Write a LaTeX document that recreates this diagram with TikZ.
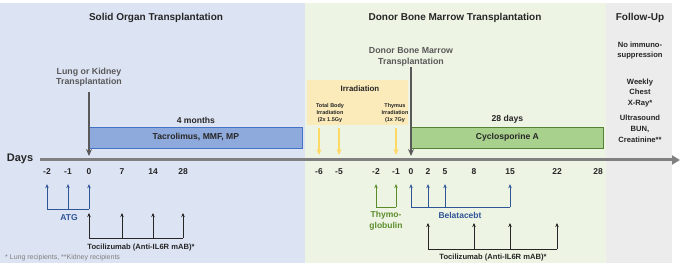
\documentclass[tikz,border=0pt]{standalone}
\usepackage{fontspec}
\setmainfont{Liberation Sans}
\usetikzlibrary{arrows.meta,positioning}
\definecolor{solidbg}{HTML}{DCE3F3}
\definecolor{donorbg}{HTML}{EEF4E4}
\definecolor{fubg}{HTML}{ECECEC}
\definecolor{tacfill}{HTML}{8EA9DB}
\definecolor{tacline}{HTML}{4472C4}
\definecolor{cycfill}{HTML}{A9D18E}
\definecolor{cycline}{HTML}{548235}
\definecolor{irrfill}{HTML}{FCEBBA}
\definecolor{raycol}{HTML}{FFD966}
\definecolor{bluec}{HTML}{2F5597}
\definecolor{greenc}{HTML}{5B8C2A}
\definecolor{txt}{HTML}{262626}
\definecolor{evgray}{HTML}{595959}
\definecolor{axgray}{HTML}{808080}
\tikzset{
  tl/.style={x=1pt, y=-1pt, >={Stealth[length=4pt,width=3.5pt]},
             every node/.style={text=txt, inner sep=1pt, align=center}},
  ptitle/.style={font=\bfseries\fontsize{10}{12}\selectfont},
  tick/.style={font=\bfseries\fontsize{8.5}{10}\selectfont},
  evtxt/.style={text=evgray, font=\bfseries\fontsize{8.8}{10.5}\selectfont},
  drug/.style={draw, line width=0.8pt, anchor=west, minimum height=21pt, font=\bfseries\fontsize{8.6}{10}\selectfont},
  dur/.style={font=\bfseries\fontsize{8.6}{10}\selectfont},
  lab/.style={font=\bfseries\fontsize{8.5}{11.5}\selectfont},
  small/.style={font=\bfseries\fontsize{5.5}{6.7}\selectfont},
  fu/.style={font=\bfseries\fontsize{7.6}{10.8}\selectfont},
  event/.style={->, line width=1.8pt, evgray, >={Stealth[length=7pt,width=6pt]}, shorten >=4pt},
  axis/.style={-{Triangle[length=8pt,width=9pt]}, line width=3pt, axgray},
  ray/.style={->, line width=1.2pt, raycol, >={Stealth[length=6pt,width=5pt]}, shorten >=5pt},
  dose/.style={->, line width=1pt, shorten >=8pt},
  bar/.style={line width=1pt}
}

\begin{document}
\begin{tikzpicture}[tl]
\useasboundingbox (0,0) rectangle (680,267);
% phases
\fill[solidbg] (0,3) rectangle (305,263);
\fill[donorbg] (305,3) rectangle (606,263);
\fill[fubg] (606,3) rectangle (672,263);
\node[ptitle] (tsot) at (156,18) {Solid Organ Transplantation};
\node[ptitle] (tbmt) at (455,18) {Donor Bone Marrow Transplantation};
\node[ptitle] (tfu) at (640,18) {Follow-Up};

% time axis
\node[font=\bfseries\fontsize{11}{13}\selectfont] (days) at (20,159) {Days};
\coordinate (a0) at (40,160); \coordinate (a1) at (680,160);
\draw[axis] (a0) -- (a1);
\foreach \x/\n in {47/-2,68/-1,89/0,122/7,153/14,183/28}
  \node[tick] (s\n) at (\x,172) {\n};
\foreach \x/\n in {319/-6,339/-5,376/-2,396/-1,411/0,428/2,445/5,474/8,510/15,557/22,598/28}
  \node[tick] (d\n) at (\x,172) {\n};

% drugs
\node[drug, fill=tacfill, draw=tacline, minimum width=213pt] (tac) at (89,137.5) {Tacrolimus, MMF, MP};
\node[dur, above=2pt of tac] (tacdur) {4 months};
\node[drug, fill=cycfill, draw=cycline, minimum width=192pt] (cyc) at (411,137.5) {Cyclosporine A};
\node[dur, above=2pt of cyc] (cycdur) {28 days};

% irradiation
\node[fill=irrfill, minimum width=101pt, minimum height=45pt, anchor=north west] (irr) at (307,80) {};
\node[font=\bfseries\fontsize{7.9}{9}\selectfont] (irrt) at (360,89) {Irradiation};
\node[small] (tbi) at (330,113) {Total Body\\Irradiation\\(2x 1.5Gy};
\node[small] (thy) at (395,113) {Thymus\\Irradiation\\(1x 7Gy};
\foreach \n in {-6,-5,-1}
  \draw[ray] (d\n |- irr.south) ++(0,3) -- (d\n |- a0);

% transplantations
\node[evtxt] (lung) at (89,77) {Lung or Kidney\\Transplantation};
\draw[event] ([yshift=-4pt]lung.south) -- (lung.south |- a0);
\node[evtxt] (dbm) at (411,57) {Donor Bone Marrow\\Transplantation};
\draw[event] (dbm.south) -- (dbm.south |- a0);

% doses
\draw[bar, bluec] (s-2 |- 0,209) -- (s0 |- 0,209);
\foreach \n in {-2,-1,0} \draw[dose, bluec] (s\n |- 0,209) -- (s\n.south);
\node[lab, text=bluec] (atg) at (69,218) {ATG};
\draw[bar, txt] (s0 |- 0,238) -- (s28 |- 0,238);
\foreach \n in {0,7,14,28} \draw[dose, txt, shorten >=0pt] (s\n |- 0,238) -- (s\n |- 0,213);
\node[lab, font=\bfseries\fontsize{7.6}{9}\selectfont] (toc1) at (141,248) {Tocilizumab (Anti-IL6R mAB)*};

\draw[bar, greenc] (d-2 |- 0,207) -- (d-1 |- 0,207);
\foreach \n in {-2,-1} \draw[dose, greenc] (d\n |- 0,207) -- (d\n.south);
\node[lab, text=greenc] (thymo) at (386,221) {Thymo-\\globulin};
\draw[bar, bluec] (d0 |- 0,207) -- (d15 |- 0,207);
\foreach \n in {0,2,5,15} \draw[dose, bluec] (d\n |- 0,207) -- (d\n.south);
\node[lab, text=bluec] (bela) at (460,215) {Belatacebt};
\draw[bar, txt] (d2 |- 0,249) -- (d22 |- 0,249);
\foreach \n in {2,8,15,22} \draw[dose, txt, shorten >=0pt] (d\n |- 0,249) -- (d\n |- 0,223);
\node[lab, font=\bfseries\fontsize{7.6}{9}\selectfont] (toc2) at (493,258) {Tocilizumab (Anti-IL6R mAB)*};

% follow-up
\node[fu] (fu1) at (640,50.5) {No immuno-\\suppression};
\node[fu] (fu2) at (640,93) {Weekly\\Chest\\X-Ray*};
\node[fu] (fu3) at (640,128.5) {Ultrasound\\BUN,\\Creatinine**};

\node[anchor=west, text=axgray, font=\fontsize{7}{8}\selectfont] (note) at (4,258) {* Lung recipients, **Kidney recipients};
\end{tikzpicture}
\end{document}
